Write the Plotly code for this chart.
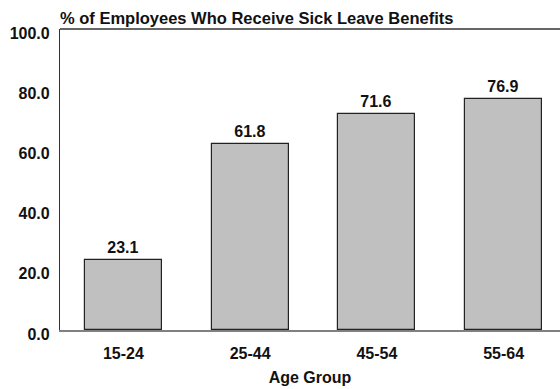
import plotly.graph_objects as go

categories = ["15-24", "25-44", "45-54", "55-64"]
values = [23.1, 61.8, 71.6, 76.9]
y_ticks = [0, 20, 40, 60, 80, 100]
y_tick_labels = ["0.0", "20.0", "40.0", "60.0", "80.0", "100.0"]

font_family = "Liberation Sans, Arial, sans-serif"

fig = go.Figure()
fig.add_trace(go.Bar(
    x=list(range(len(categories))),
    y=values,
    width=0.606,
    marker=dict(color="#c0c0c0", line=dict(color="#222222", width=1.2)),
    text=[f"{v:.1f}" for v in values],
    texttemplate="<b>%{text}</b>",
    textposition="outside",
    textfont=dict(family=font_family, size=16, color="#111111"),
    cliponaxis=False,
))

fig.update_layout(
    width=560, height=389,
    margin=dict(l=60, r=0, t=29, b=59),
    plot_bgcolor="white", paper_bgcolor="white",
    showlegend=False,
    bargap=0,
    font=dict(family=font_family, color="#111111"),
    title=dict(
        text="<b>% of Employees Who Receive Sick Leave Benefits</b>",
        x=0, xanchor="left", xref="paper",
        y=1 - 18/389, yanchor="middle",
        font=dict(family=font_family, size=16.5, color="#111111"),
    ),
    xaxis=dict(
        range=[-0.5, 3.445],
        tickmode="array",
        tickvals=list(range(len(categories))),
        ticktext=[f"<b>{c}</b>" for c in categories],
        tickfont=dict(family=font_family, size=16, color="#111111"),
        showgrid=False, zeroline=False,
        showline=True, linecolor="#808080", linewidth=1.5,
        ticks="", ticklen=0,
        ticklabelstandoff=8,
        title=dict(text="<b>Age Group</b>", font=dict(family=font_family, size=16, color="#111111"), standoff=11),
    ),
    yaxis=dict(
        range=[0, 100],
        tickmode="array",
        tickvals=y_ticks,
        ticktext=[f"<b>{t}</b>" for t in y_tick_labels],
        tickfont=dict(family=font_family, size=16, color="#111111"),
        showgrid=False, zeroline=False,
        showline=True, linecolor="#333333", linewidth=1.2,
        ticks="", ticklen=0,
        ticklabelstandoff=6,
        ticklabelshift=4,
    ),
)

fig.add_shape(type="line", xref="paper", yref="paper", x0=0, x1=1, y0=1, y1=1,
              line=dict(color="#333333", width=1.6))

fig.write_html("out.html")
